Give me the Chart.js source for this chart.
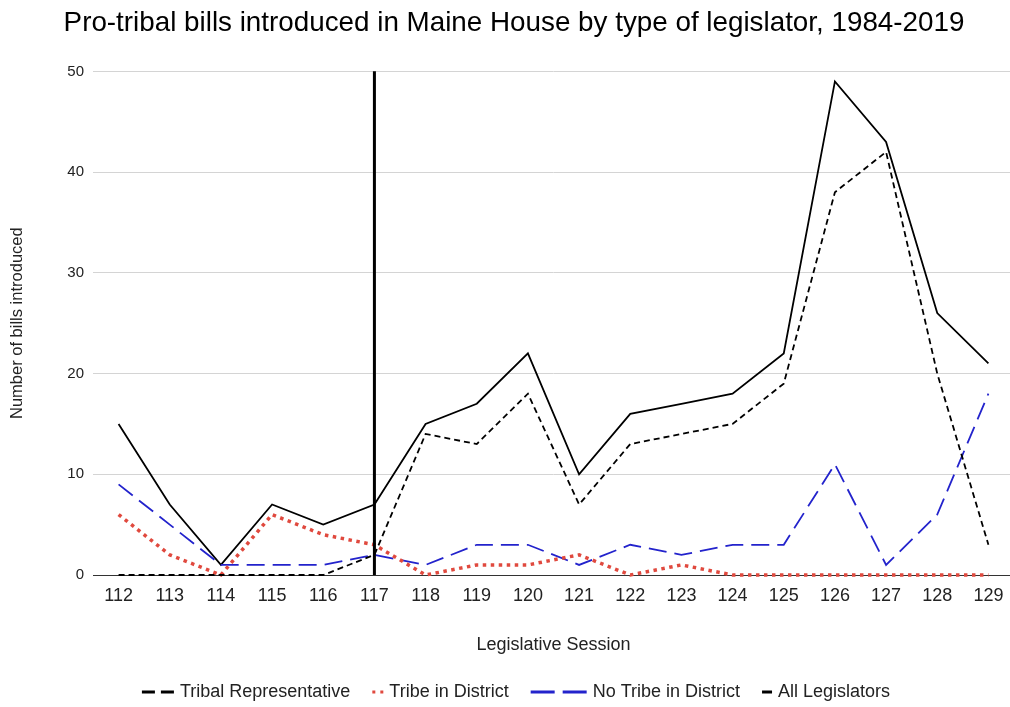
<!DOCTYPE html>
<html>
<head>
<meta charset="utf-8">
<script src="https://cdn.jsdelivr.net/npm/chart.js@4/dist/chart.umd.min.js"></script>
<style>
  html, body { margin: 0; padding: 0; background: #fff; overflow: hidden; }
  #wrap { width: 1010px; height: 707px; overflow: hidden; }
</style>
</head>
<body>
<div id="wrap"><canvas id="chart" width="1014" height="707"></canvas></div>
<script>
// Data
const sessions = ['112', '113', '114', '115', '116', '117', '118', '119', '120',
                  '121', '122', '123', '124', '125', '126', '127', '128', '129'];
const tribalRep        = [0, 0, 0, 0, 0, 2, 14, 13, 18, 7, 13, 14, 15, 19, 38, 42, 20, 3];
const tribeInDistrict  = [6, 2, 0, 6, 4, 3, 0, 1, 1, 2, 0, 1, 0, 0, 0, 0, 0, 0];
const noTribeInDistrict = [9, 5, 1, 1, 1, 2, 1, 3, 3, 1, 3, 2, 3, 3, 11, 1, 6, 18];
const allLegislators   = [15, 7, 1, 7, 5, 7, 15, 17, 22, 10, 16, 17, 18, 22, 49, 43, 26, 21];
const yTicks = [0, 10, 20, 30, 40, 50];
const markerSession = '117';

const FONT = "'Liberation Sans', Arial, sans-serif";

// Legend marker styles (drawn by the plugin below)
const legendMarks = [
    { color: '#000000', dash: [13, 6, 13, 0], len: 32 },
    { color: '#e0493e', dash: [3, 5, 3, 0], len: 11 },
    { color: '#2323cc', dash: [24, 8, 24, 0], len: 56 },
    { color: '#000000', dash: [], len: 10 }
];

// Vertical reference line at session 117
const markerLine = {
    id: 'markerLine',
    afterDatasetsDraw(chart) {
        const { ctx, chartArea, scales } = chart;
        const x = scales.x.getPixelForValue(sessions.indexOf(markerSession));
        ctx.save();
        ctx.strokeStyle = '#000';
        ctx.lineWidth = 3;
        ctx.beginPath();
        ctx.moveTo(x, chartArea.top);
        ctx.lineTo(x, chartArea.bottom);
        ctx.stroke();
        ctx.restore();
    }
};

// Bottom legend with per-item marker widths
const bottomLegend = {
    id: 'bottomLegend',
    afterDraw(chart) {
        const { ctx } = chart;
        const y = 692;
        const textGap = 6;
        const itemGap = 22;
        ctx.save();
        ctx.font = '18px ' + FONT;
        const items = chart.data.datasets.map((ds, i) => ({
            label: ds.label,
            mark: legendMarks[i],
            textW: ctx.measureText(ds.label).width
        }));
        let total = 0;
        items.forEach((it, i) => {
            total += it.mark.len + textGap + it.textW + (i < items.length - 1 ? itemGap : 0);
        });
        let x = 516 - total / 2;
        items.forEach(it => {
            ctx.strokeStyle = it.mark.color;
            ctx.lineWidth = 3;
            ctx.lineCap = 'butt';
            ctx.setLineDash(it.mark.dash);
            ctx.beginPath();
            ctx.moveTo(x, y);
            ctx.lineTo(x + it.mark.len, y);
            ctx.stroke();
            x += it.mark.len + textGap;
            ctx.setLineDash([]);
            ctx.fillStyle = '#222';
            ctx.textBaseline = 'middle';
            ctx.textAlign = 'left';
            ctx.fillText(it.label, x, y);
            x += it.textW + itemGap;
        });
        ctx.restore();
    }
};

const ctx = document.getElementById('chart').getContext('2d');
new Chart(ctx, {
    type: 'line',
    data: {
        labels: sessions,
        datasets: [
            {
                label: 'Tribal Representative',
                data: tribalRep,
                borderColor: '#000000',
                borderWidth: 1.8,
                borderDash: [6, 4]
            },
            {
                label: 'Tribe in District',
                data: tribeInDistrict,
                borderColor: '#e0493e',
                borderWidth: 3.5,
                borderDash: [3.5, 4.5]
            },
            {
                label: 'No Tribe in District',
                data: noTribeInDistrict,
                borderColor: '#2323cc',
                borderWidth: 1.8,
                borderDash: [18, 8]
            },
            {
                label: 'All Legislators',
                data: allLegislators,
                borderColor: '#000000',
                borderWidth: 1.8
            }
        ]
    },
    options: {
        responsive: false,
        animation: false,
        clip: 4,
        elements: {
            point: { radius: 0 },
            line: { tension: 0, fill: false }
        },
        layout: { padding: { left: 14, right: 0, top: 0, bottom: 50 } },
        plugins: {
            legend: { display: false },
            tooltip: { enabled: false },
            title: {
                display: true,
                text: 'Pro-tribal bills introduced in Maine House by type of legislator, 1984-2019',
                color: '#000',
                font: { family: FONT, size: 27.8, weight: 'normal' },
                padding: { top: 7, bottom: 31 }
            }
        },
        scales: {
            x: {
                offset: true,
                grid: { display: false, drawTicks: false },
                border: { display: true, color: '#333', width: 1 },
                ticks: {
                    color: '#222',
                    font: { family: FONT, size: 18 },
                    padding: 10,
                    maxRotation: 0
                },
                title: {
                    display: true,
                    text: 'Legislative Session',
                    color: '#222',
                    font: { family: FONT, size: 18 },
                    padding: { top: 17.6, bottom: 1.2 }
                }
            },
            y: {
                min: 0,
                max: 50,
                afterBuildTicks(scale) {
                    scale.ticks = yTicks.map(v => ({ value: v }));
                },
                afterFit(scale) {
                    scale.width = 79;
                },
                grid: {
                    drawTicks: false,
                    color: c => (c.tick && c.tick.value === 0 ? '#333' : '#d4d4d4'),
                    lineWidth: 1
                },
                border: { display: false },
                ticks: {
                    color: '#222',
                    font: { family: FONT, size: 15 },
                    padding: 9
                },
                title: {
                    display: true,
                    text: 'Number of bills introduced',
                    color: '#222',
                    font: { family: FONT, size: 16.5 },
                    padding: { top: -6, bottom: 0 }
                }
            }
        }
    },
    plugins: [markerLine, bottomLegend]
});
</script>
</body>
</html>
